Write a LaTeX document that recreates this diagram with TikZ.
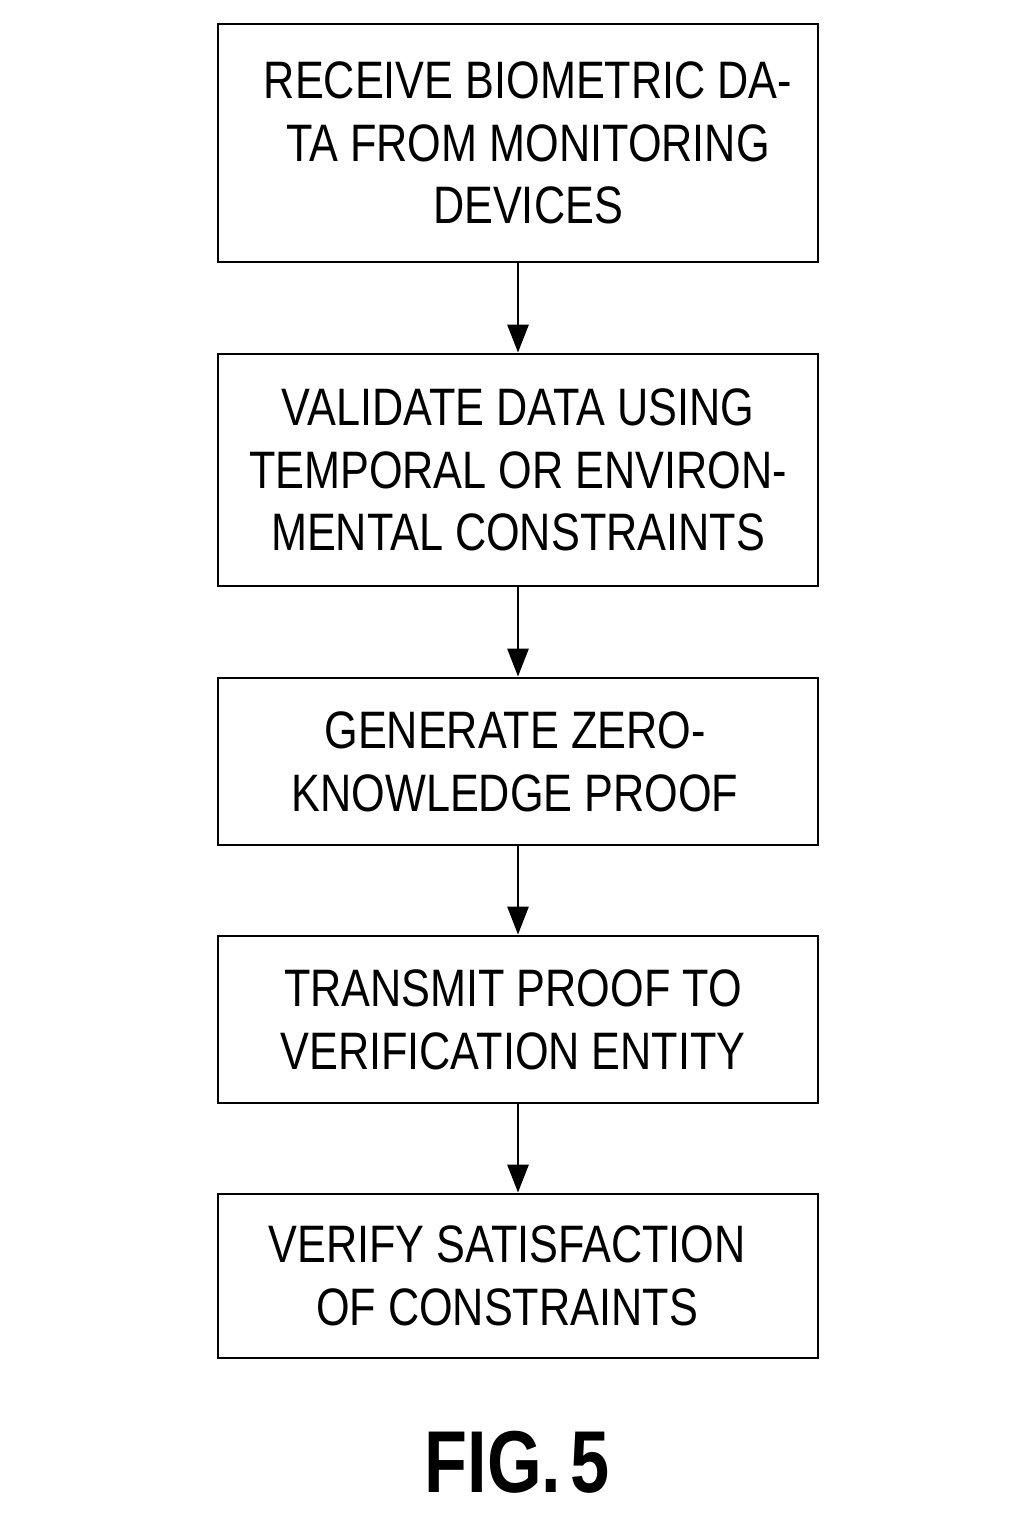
\documentclass[tikz,border=0pt]{standalone}
\usepackage{fontspec}
\setmainfont{Liberation Sans}[FakeStretch=0.82]
\newfontfamily\figfont{Liberation Sans}[FakeStretch=0.8]
\usetikzlibrary{arrows.meta}
\begin{document}
\begin{tikzpicture}[x=0.02cm,y=-0.02cm,
  box/.style={draw,line width=1.6pt,minimum width=12cm,inner sep=0pt,align=center},
  lbl/.style={inner sep=0pt,align=center,font=\fontsize{30}{35.7}\selectfont},
  flow/.style={line width=1.6pt,-{Triangle[length=0.56cm,width=0.42cm]}}]
\useasboundingbox (0,0) rectangle (1024,1536);
\node[box,minimum height=4.76cm] (b1) at (518,143) {};
\node[lbl] (t1) at (528,143) {RECEIVE BIOMETRIC DA-\\TA FROM MONITORING\\DEVICES};
\node[box,minimum height=4.64cm] (b2) at (518,470) {};
\node[lbl] (t2) at (518,470) {VALIDATE DATA USING\\TEMPORAL OR ENVIRON-\\MENTAL CONSTRAINTS};
\node[box,minimum height=3.34cm] (b3) at (518,761.5) {};
\node[lbl] (t3) at (515,761.5) {GENERATE ZERO-\\KNOWLEDGE PROOF};
\node[box,minimum height=3.34cm] (b4) at (518,1019.5) {};
\node[lbl] (t4) at (513,1019.5) {TRANSMIT PROOF TO\\VERIFICATION ENTITY};
\node[box,minimum height=3.28cm] (b5) at (518,1276) {};
\node[lbl] (t5) at (507,1276) {VERIFY SATISFACTION\\OF CONSTRAINTS};
\draw[flow] (b1) -- (b2);
\draw[flow] (b2) -- (b3);
\draw[flow] (b3) -- (b4);
\draw[flow] (b4) -- (b5);
\node[font=\figfont\bfseries\fontsize{50}{56}\selectfont,inner sep=0pt] (fig) at (517,1462) {FIG.\kern0.1em 5};
\end{tikzpicture}
\end{document}
